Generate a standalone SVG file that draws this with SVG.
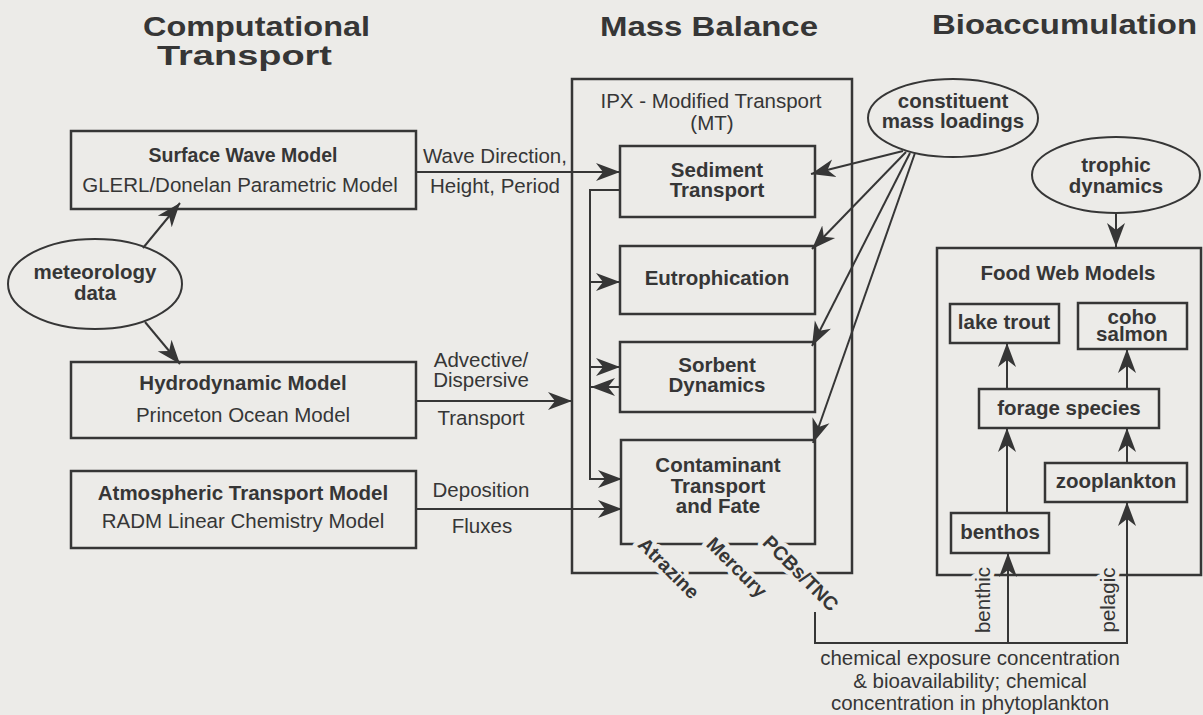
<svg xmlns="http://www.w3.org/2000/svg" width="1203" height="715" viewBox="0 0 1203 715">
  <defs>
    <marker id="arrow" markerUnits="userSpaceOnUse" markerWidth="25" markerHeight="20" refX="24" refY="10" orient="auto" viewBox="0 0 25 20">
      <path d="M24,10 L0,1 L7,10 L0,19 Z" fill="#363636"/>
    </marker>
    <style>
      .box{fill:none;stroke:#363636;stroke-width:2.5}
      .ell{fill:none;stroke:#363636;stroke-width:2}
      .wire{fill:none;stroke:#363636;stroke-width:2}
      .arr{marker-end:url(#arrow)}
      text{font-family:"Liberation Sans",Arial,sans-serif;fill:#363636}
      .t{font-size:20.5px;text-anchor:middle}
      .b{font-weight:bold}
      .title{font-size:28px;font-weight:bold}
      .halo{paint-order:stroke;stroke:#ecebe8;stroke-width:9px;stroke-linejoin:round}
    </style>
  </defs>

  <rect width="1203" height="715" fill="#ecebe8"/>

  <!-- column headings -->
  <g id="headings">
    <text class="title" x="143" y="36" textLength="227" lengthAdjust="spacingAndGlyphs">Computational</text>
    <text class="title" x="157" y="65" textLength="175" lengthAdjust="spacingAndGlyphs">Transport</text>
    <text class="title" x="600" y="36" textLength="218" lengthAdjust="spacingAndGlyphs">Mass Balance</text>
    <text class="title" x="932" y="34" textLength="265" lengthAdjust="spacingAndGlyphs">Bioaccumulation</text>
  </g>

  <!-- computational transport models -->
  <g id="surface-wave">
    <rect class="box" x="71" y="131" width="345" height="78"/>
    <text class="t b" x="243" y="162" style="font-size:19.5px">Surface Wave Model</text>
    <text class="t" x="240" y="192">GLERL/Donelan Parametric Model</text>
  </g>
  <g id="meteorology">
    <ellipse class="ell" cx="95" cy="284" rx="87" ry="45"/>
    <text class="t b" x="95" y="279">meteorology</text>
    <text class="t b" x="95" y="300">data</text>
  </g>
  <g id="hydrodynamic">
    <rect class="box" x="71" y="362" width="345" height="76"/>
    <text class="t b" x="243" y="390">Hydrodynamic Model</text>
    <text class="t" x="243" y="422">Princeton Ocean Model</text>
  </g>
  <g id="atmospheric">
    <rect class="box" x="71" y="471" width="345" height="77"/>
    <text class="t b" x="243" y="500">Atmospheric Transport Model</text>
    <text class="t" x="243" y="528">RADM Linear Chemistry Model</text>
  </g>

  <!-- mass balance framework -->
  <g id="mt-framework">
    <rect class="box" x="572" y="79" width="280" height="494"/>
    <text class="t" x="711" y="108">IPX - Modified Transport</text>
    <text class="t" x="712" y="130">(MT)</text>
  </g>
  <g id="sediment">
    <rect class="box" x="620" y="146" width="195" height="71"/>
    <text class="t b" x="717" y="177">Sediment</text>
    <text class="t b" x="717" y="197">Transport</text>
  </g>
  <g id="eutrophication">
    <rect class="box" x="620" y="246" width="195" height="68"/>
    <text class="t b" x="717" y="285">Eutrophication</text>
  </g>
  <g id="sorbent">
    <rect class="box" x="620" y="342" width="195" height="70"/>
    <text class="t b" x="717" y="372">Sorbent</text>
    <text class="t b" x="717" y="392">Dynamics</text>
  </g>
  <g id="contaminant">
    <rect class="box" x="621" y="440" width="194" height="104"/>
    <text class="t b" x="718" y="472">Contaminant</text>
    <text class="t b" x="718" y="493">Transport</text>
    <text class="t b" x="718" y="513">and Fate</text>
  </g>

  <!-- bioaccumulation side -->
  <g id="constituent">
    <ellipse class="ell" cx="953" cy="118" rx="85" ry="39"/>
    <text class="t b" x="953" y="108">constituent</text>
    <text class="t b" x="953" y="128">mass loadings</text>
  </g>
  <g id="trophic">
    <ellipse class="ell" cx="1116" cy="175" rx="84" ry="38"/>
    <text class="t b" x="1116" y="172">trophic</text>
    <text class="t b" x="1116" y="193">dynamics</text>
  </g>
  <g id="food-web">
    <rect class="box" x="937" y="248" width="264" height="327"/>
    <text class="t b" x="1068" y="280">Food Web Models</text>
  </g>
  <g id="lake-trout">
    <rect class="box" x="950" y="304" width="109" height="39"/>
    <text class="t b" x="1004" y="329">lake trout</text>
  </g>
  <g id="coho-salmon">
    <rect class="box" x="1078" y="303" width="109" height="46"/>
    <text class="t b" x="1132" y="324">coho</text>
    <text class="t b" x="1132" y="341">salmon</text>
  </g>
  <g id="forage-species">
    <rect class="box" x="979" y="389" width="180" height="39"/>
    <text class="t b" x="1069" y="415">forage species</text>
  </g>
  <g id="zooplankton">
    <rect class="box" x="1045" y="463" width="142" height="39"/>
    <text class="t b" x="1116" y="488">zooplankton</text>
  </g>
  <g id="benthos">
    <rect class="box" x="951" y="513" width="98" height="40"/>
    <text class="t b" x="1000" y="539">benthos</text>
  </g>

  <!-- connectors -->
  <g id="connectors">
    <path class="wire arr" d="M143,248 L180,203"/>
    <path class="wire arr" d="M145,322 L180,364"/>
    <path class="wire arr" d="M416,172 L620,172"/>
    <path class="wire arr" d="M416,401 L572,401"/>
    <path class="wire arr" d="M416,509 L622,509"/>
    <path class="wire arr" d="M620,190 L590,190 L590,479 L622,479"/>
    <path class="wire arr" d="M590,282 L620,282"/>
    <path class="wire arr" d="M590,367 L620,367"/>
    <path class="wire arr" d="M620,387 L591,387"/>
    <path class="wire arr" d="M903,151 L811,174"/>
    <path class="wire arr" d="M906,152 L812,249"/>
    <path class="wire arr" d="M910,153 L812,346"/>
    <path class="wire arr" d="M915,153 L813,443"/>
    <path class="wire arr" d="M1116,213 L1116,247"/>
    <path class="wire arr" d="M1007,389 L1007,343"/>
    <path class="wire arr" d="M1127,389 L1127,349"/>
    <path class="wire arr" d="M1007,513 L1007,428"/>
    <path class="wire arr" d="M1127,463 L1127,428"/>
    <path class="wire arr" d="M815,612 L815,643 L1127,643 L1127,502"/>
    <path class="wire arr" d="M1008,643 L1008,553"/>
  </g>

  <!-- connector labels -->
  <g id="connector-labels">
    <text class="t" x="495" y="163">Wave Direction,</text>
    <text class="t" x="495" y="193">Height, Period</text>
    <text class="t" x="481" y="367">Advective/</text>
    <text class="t" x="481" y="387">Dispersive</text>
    <text class="t" x="481" y="425">Transport</text>
    <text class="t" x="481" y="497">Deposition</text>
    <text class="t" x="482" y="533">Fluxes</text>
    <text class="t halo" transform="translate(990,600) rotate(-90)">benthic</text>
    <text class="t halo" transform="translate(1115,600) rotate(-90)">pelagic</text>
  </g>

  <!-- contaminant classes -->
  <g id="contaminant-classes">
    <text class="t b halo" style="font-size:19.5px" transform="translate(664,573) rotate(45)">Atrazine</text>
    <text class="t b halo" style="font-size:19.5px" transform="translate(732,572) rotate(45)">Mercury</text>
    <text class="t b halo" style="font-size:19.5px" transform="translate(796,578) rotate(45)">PCBs/TNC</text>
  </g>

  <!-- exposure note -->
  <g id="exposure-note">
    <text class="t" x="970" y="665">chemical exposure concentration</text>
    <text class="t" x="970" y="688">&amp; bioavailability; chemical</text>
    <text class="t" x="970" y="710">concentration in phytoplankton</text>
  </g>
</svg>
